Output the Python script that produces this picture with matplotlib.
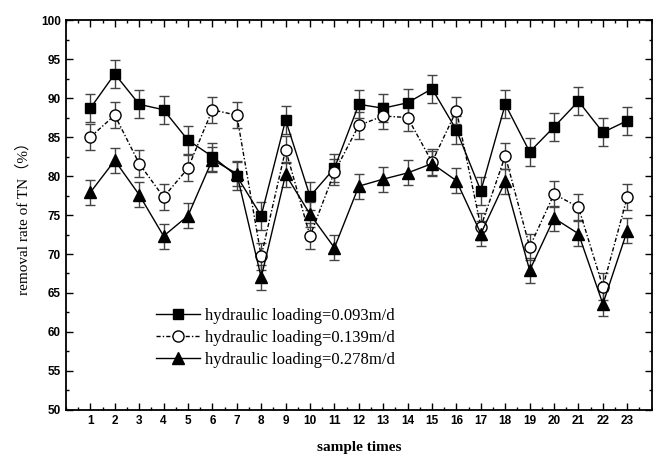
import matplotlib
matplotlib.use('Agg')
import matplotlib.pyplot as plt
from matplotlib.ticker import MultipleLocator

# sample number
samples = list(range(1, 24))

# removal rate of TN (%) for each hydraulic loading
tn_093 = [88.7, 93.1, 89.2, 88.5, 84.6, 82.5, 80.0, 74.9, 87.2, 77.4, 81.0, 89.2,
          88.7, 89.4, 91.2, 85.9, 78.1, 89.2, 83.1, 86.3, 89.6, 85.6, 87.1]
tn_139 = [85.0, 87.8, 81.6, 77.3, 81.0, 88.5, 87.8, 69.7, 83.4, 72.3, 80.5, 86.5,
          87.7, 87.5, 81.8, 88.4, 73.5, 82.6, 70.9, 77.7, 76.0, 65.8, 77.3]
tn_278 = [77.9, 82.0, 77.6, 72.3, 74.9, 82.1, 80.3, 67.0, 80.2, 75.1, 70.8, 78.7,
          79.6, 80.4, 81.6, 79.4, 72.6, 79.3, 67.9, 74.6, 72.6, 63.6, 73.0]

# error bars
err_093 = [1.8] * 23
err_139 = [1.7] * 23
err_278 = [1.6] * 23

labels = ['hydraulic loading=0.093m/d',
          'hydraulic loading=0.139m/d',
          'hydraulic loading=0.278m/d']

fig = plt.figure(figsize=(6.53, 4.57), dpi=100)
ax = fig.add_axes([0.101, 0.103, 0.897, 0.853])

ebkw = dict(fmt='none', ecolor='#444444', elinewidth=1.0, capsize=3.5, capthick=1.0)

# error bars first, then lines + markers on top
ax.errorbar(samples, tn_093, yerr=err_093, **ebkw)
ax.errorbar(samples, tn_139, yerr=err_139, **ebkw)
ax.errorbar(samples, tn_278, yerr=err_278, **ebkw)

ax.plot(samples, tn_093, marker='s', ms=7.5, mfc='black', mec='black', color='black',
        lw=1.0, ls='-', label=labels[0])
ax.plot(samples, tn_139, marker='o', ms=8, mfc='white', mec='black', color='black',
        lw=1.0, ls=(0, (3, 1.5, 1, 1.5)), label=labels[1])
ax.plot(samples, tn_278, marker='^', ms=9, mfc='black', mec='black', color='black',
        lw=1.0, ls='-', label=labels[2])

ax.set_xlim(0, 24)
ax.set_ylim(50, 100)
ax.set_xticks(samples)
ax.xaxis.set_minor_locator(MultipleLocator(0.5))
ax.yaxis.set_major_locator(MultipleLocator(5))
ax.yaxis.set_minor_locator(MultipleLocator(2.5))
ax.tick_params(which='both', direction='in', top=True, right=True, width=1.0)
ax.tick_params(which='major', length=5)
ax.tick_params(which='minor', length=2.5)
for lab in ax.get_xticklabels() + ax.get_yticklabels():
    lab.set_fontfamily('Liberation Sans')
    lab.set_fontweight('bold')
    lab.set_fontsize(8.5)
for s in ax.spines.values():
    s.set_linewidth(1.3)

ax.set_xlabel('sample times', fontfamily='Liberation Serif', fontweight='bold', fontsize=11, labelpad=10)
ax.set_ylabel('removal rate of TN（%）', family=['Liberation Serif', 'Noto Sans CJK SC'], fontsize=11, labelpad=8)

leg = ax.legend(loc='upper left', bbox_to_anchor=(0.14, 0.283), frameon=False,
                prop={'family': 'Liberation Serif', 'size': 12}, handlelength=2.6,
                handletextpad=0.3, labelspacing=0.35, borderpad=0)

fig.savefig('out.png', dpi=100)
